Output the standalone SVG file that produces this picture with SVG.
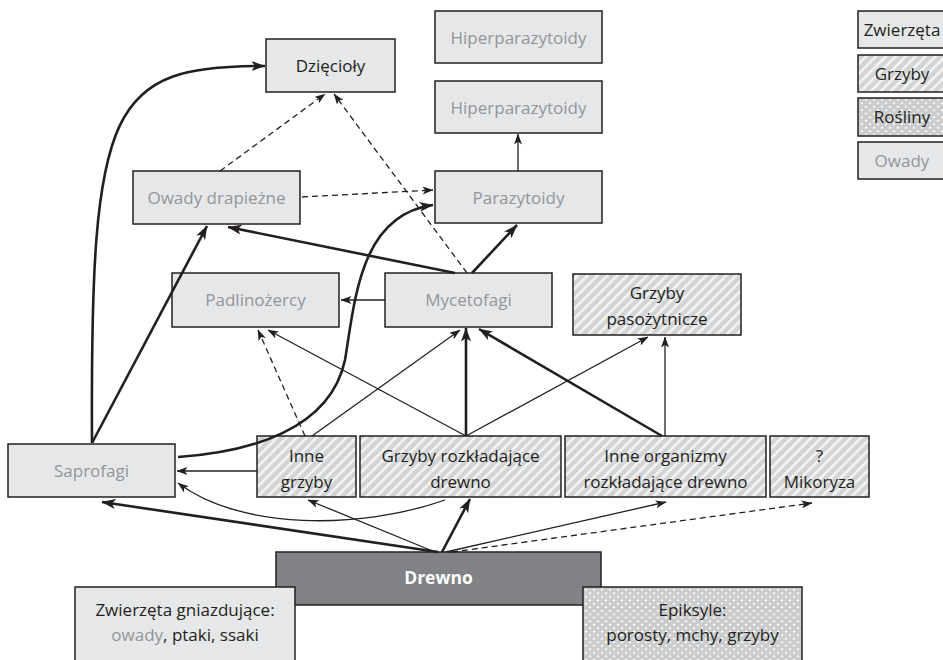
<svg xmlns="http://www.w3.org/2000/svg" width="943" height="660" viewBox="0 0 943 660">
  <style>
    .box { fill: #e6e7e8; stroke: #231f20; stroke-width: 1.5; }
    .fungi { fill: url(#hatch); stroke: #231f20; stroke-width: 1.5; }
    .plant { fill: url(#dots); stroke: #231f20; stroke-width: 1.5; }
    .wood { fill: #808285; stroke: #231f20; stroke-width: 1.5; }
    .t { font-family: "Open Sans", "Liberation Sans", sans-serif; font-size: 17px; text-anchor: middle; fill: #231f20; }
    .g { fill: #939598; }
    .w { fill: #ffffff; font-weight: bold; font-size: 17.5px; }
    .thick { fill: none; stroke: #231f20; stroke-width: 2.6; marker-end: url(#ahBig); }
    .thin { fill: none; stroke: #231f20; stroke-width: 1.3; marker-end: url(#ahSmall); }
    .dash { fill: none; stroke: #231f20; stroke-width: 1.3; stroke-dasharray: 6 4; marker-end: url(#ahSmall); }
  </style>
  <defs>
    <pattern id="hatch" width="7" height="7" patternUnits="userSpaceOnUse" patternTransform="rotate(45)">
      <rect width="7" height="7" fill="#d1d3d4"/>
      <rect x="0" width="2.6" height="7" fill="#f4f4f4"/>
    </pattern>
    <pattern id="dots" width="8" height="7" patternUnits="userSpaceOnUse">
      <rect width="8" height="7" fill="#cbcccd"/>
      <path d="M2,0.6 L3.4,1.8 L2,3 L0.6,1.8 Z M6,4.1 L7.4,5.3 L6,6.5 L4.6,5.3 Z" fill="#ffffff"/>
    </pattern>
    <marker id="ahBig" markerUnits="userSpaceOnUse" viewBox="0 0 14 10" markerWidth="14" markerHeight="10" refX="13.5" refY="5" orient="auto">
      <path d="M0,0 L14,5 L0,10 L3.5,5 Z" fill="#231f20"/>
    </marker>
    <marker id="ahSmall" markerUnits="userSpaceOnUse" viewBox="0 0 11 8" markerWidth="11" markerHeight="8" refX="10.5" refY="4" orient="auto">
      <path d="M0,0 L11,4 L0,8 L2.8,4 Z" fill="#231f20"/>
    </marker>
  </defs>

  <!-- legend -->
  <g id="legend">
    <rect class="box" x="858" y="11" width="100" height="37"/>
    <text class="t" x="902" y="36">Zwierzęta</text>
    <rect class="fungi" x="858" y="55" width="100" height="37"/>
    <text class="t" x="902" y="80">Grzyby</text>
    <rect class="plant" x="858" y="98" width="100" height="38"/>
    <text class="t" x="902" y="123">Rośliny</text>
    <rect class="box" x="858" y="142" width="100" height="37"/>
    <text class="t g" x="902" y="167">Owady</text>
  </g>

  <!-- nodes -->
  <g id="dzieciol">
    <rect class="box" x="266" y="39" width="129" height="53"/>
    <text class="t" x="330.5" y="72">Dzięcioły</text>
  </g>
  <g id="hiper1">
    <rect class="box" x="435" y="11" width="167" height="52"/>
    <text class="t g" x="518.5" y="44">Hiperparazytoidy</text>
  </g>
  <g id="hiper2">
    <rect class="box" x="435" y="81" width="167" height="52"/>
    <text class="t g" x="518.5" y="114">Hiperparazytoidy</text>
  </g>
  <g id="parazytoidy">
    <rect class="box" x="435" y="171" width="167" height="52"/>
    <text class="t g" x="518.5" y="204">Parazytoidy</text>
  </g>
  <g id="owady-drapiezne">
    <rect class="box" x="133" y="171" width="167" height="53"/>
    <text class="t g" x="216.5" y="204">Owady drapieżne</text>
  </g>
  <g id="padlinozercy">
    <rect class="box" x="172" y="273" width="167" height="54"/>
    <text class="t g" x="255.5" y="306">Padlinożercy</text>
  </g>
  <g id="mycetofagi">
    <rect class="box" x="385" y="273" width="167" height="54"/>
    <text class="t g" x="468.5" y="306">Mycetofagi</text>
  </g>
  <g id="grzyby-pasozytnicze">
    <rect class="fungi" x="573" y="274" width="168" height="61"/>
    <text class="t" x="657" y="299">Grzyby</text>
    <text class="t" x="657" y="325">pasożytnicze</text>
  </g>
  <g id="saprofagi">
    <rect class="box" x="8" y="444" width="167" height="53"/>
    <text class="t g" x="91.5" y="477">Saprofagi</text>
  </g>
  <g id="inne-grzyby">
    <rect class="fungi" x="257" y="436" width="99" height="61"/>
    <text class="t" x="306.5" y="462">Inne</text>
    <text class="t" x="306.5" y="488">grzyby</text>
  </g>
  <g id="grzyby-rozkladajace">
    <rect class="fungi" x="360" y="436" width="201" height="61"/>
    <text class="t" x="460.5" y="462">Grzyby rozkładające</text>
    <text class="t" x="460.5" y="488">drewno</text>
  </g>
  <g id="inne-organizmy">
    <rect class="fungi" x="565" y="436" width="201" height="61"/>
    <text class="t" x="665.5" y="462">Inne organizmy</text>
    <text class="t" x="665.5" y="488">rozkładające drewno</text>
  </g>
  <g id="mikoryza">
    <rect class="fungi" x="770" y="436" width="99" height="61"/>
    <text class="t" x="819.5" y="462">?</text>
    <text class="t" x="819.5" y="488">Mikoryza</text>
  </g>
  <g id="drewno">
    <rect class="wood" x="276" y="552" width="325" height="53"/>
    <text class="t w" x="438.5" y="584">Drewno</text>
  </g>
  <g id="zwierzeta-gniazdujace">
    <rect class="box" x="75" y="587" width="220" height="85"/>
    <text class="t" x="185" y="616">Zwierzęta gniazdujące:</text>
    <text class="t" x="185" y="641"><tspan class="g">owady</tspan>, ptaki, ssaki</text>
  </g>
  <g id="epiksyle">
    <rect class="plant" x="583" y="587" width="219" height="85"/>
    <text class="t" x="692.5" y="616">Epiksyle:</text>
    <text class="t" x="692.5" y="641">porosty, mchy, grzyby</text>
  </g>

  <!-- connectors -->
  <g id="connectors">
    <path class="thick" d="M92,443 C90,100 110,66 265,66"/>
    <path class="thick" d="M92,443 L207,226"/>
    <path class="thick" d="M178,457 C250,452 330,430 345,360 C355,300 360,215 433,205"/>
    <path class="thick" d="M455,273 L228,227"/>
    <path class="thick" d="M472,273 L517,225"/>
    <path class="thick" d="M466,436 L466,328"/>
    <path class="thick" d="M662,436 L479,329"/>
    <path class="thick" d="M438,552 L102,502"/>
    <path class="thick" d="M442,552 L470,499"/>

    <path class="thin" d="M385,300 L341,300"/>
    <path class="thin" d="M466,436 L268,330"/>
    <path class="thin" d="M312,436 L460,330"/>
    <path class="thin" d="M466,436 L648,337"/>
    <path class="thin" d="M665,436 L665,337"/>
    <path class="thin" d="M518,171 L518,134"/>
    <path class="thin" d="M257,471 L177,471"/>
    <path class="thin" d="M445,500 C360,530 240,530 178,483"/>
    <path class="thin" d="M435,552 L308,500"/>
    <path class="thin" d="M446,552 L666,502"/>

    <path class="dash" d="M220,171 L325,94"/>
    <path class="dash" d="M467,273 L334,94"/>
    <path class="dash" d="M302,197 L433,190"/>
    <path class="dash" d="M305,436 L258,330"/>
    <path class="dash" d="M452,552 L812,503"/>
  </g>
</svg>
